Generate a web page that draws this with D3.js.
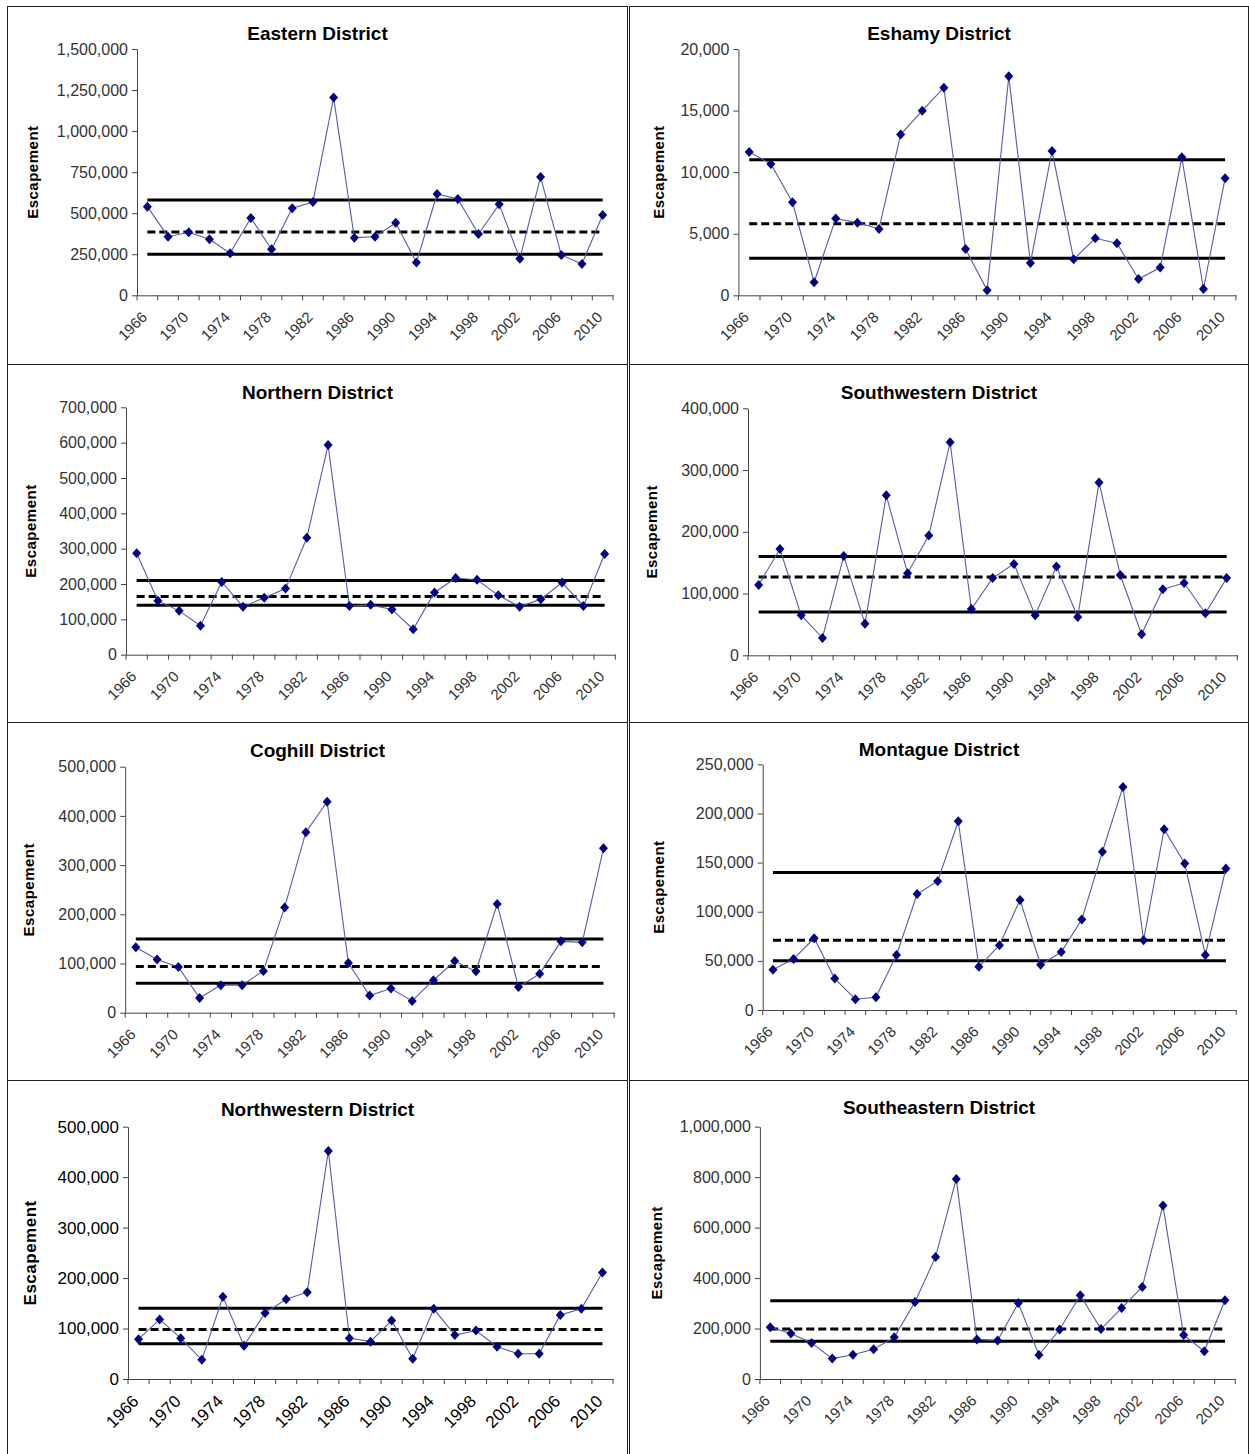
<!DOCTYPE html>
<html>
<head>
  <meta charset="UTF-8">
  <style>
    body { margin: 0; background: white; }
    text { font-family: Arial, "Liberation Sans", sans-serif; }
  </style>
</head>
<body>
<div id="charts"></div>

<script src="https://d3js.org/d3.v7.min.js"></script>
<script>

let width = 1249, height = 1454;

// categories (every second year), only every other one gets a label
const years = ["1966","1968","1970","1972","1974","1976","1978","1980","1982","1984","1986","1988",
  "1990","1992","1994","1996","1998","2000","2002","2004","2006","2008","2010"];
const yearLabels = ["1966","1970","1974","1978","1982","1986","1990","1994","1998","2002","2006","2010"];

const districts = ["Eastern District","Eshamy District","Northern District","Southwestern District",
  "Coghill District","Montague District","Northwestern District","Southeastern District"];

// escapement values
const eastern = [540000,357000,384000,341000,256000,471000,280000,530000,568000,1204000,351000,357000,
  442000,199000,617000,587000,373000,554000,223000,721000,246000,191000,489000];
const eshamy = [11640,10660,7550,1060,6230,5900,5390,13050,14990,16860,3760,410,
  17780,2630,11720,2920,4630,4220,1330,2250,11200,510,9500];
const northern = [287000,153000,124000,82000,206000,136000,161000,187000,331000,593000,138000,141000,
  128000,72000,176000,217000,212000,168000,136000,157000,204000,138000,285000];
const southwestern = [114000,172000,65000,28000,161000,51000,259000,133000,194000,345000,75000,125000,
  148000,65000,144000,62000,280000,130000,34000,107000,117000,68000,125000];
const coghill = [133000,108000,93000,30000,56000,56000,85000,214000,367000,429000,101000,35000,
  49000,24000,66000,105000,84000,221000,52000,79000,145000,143000,334000];
const montague = [41000,52000,73000,32000,11000,13000,56000,118000,131000,192000,44000,66000,
  112000,46000,59000,92000,161000,227000,71000,184000,149000,56000,144000];
const northwestern = [79000,118000,81000,38000,163000,66000,131000,158000,172000,452000,81000,74000,
  116000,40000,139000,87000,96000,64000,50000,50000,127000,139000,211000];
const southeastern = [205000,180000,143000,81000,96000,118000,165000,305000,484000,793000,157000,153000,
  301000,95000,196000,332000,198000,281000,365000,688000,174000,110000,312000];

const series = [eastern, eshamy, northern, southwestern, coghill, montague, northwestern, southeastern];

// upper goal, mean (dashed) and lower goal lines
const upperLine = [580000, 11000, 210000, 160000, 150000, 140000, 140000, 310000];
const meanLine  = [385000, 5800, 165000, 127000, 94000, 71000, 98000, 198000];
const lowerLine = [250000, 3000, 140000, 70000, 60000, 50000, 70000, 150000];

// y axis extent and tick step
const yMax  = [1500000, 20000, 700000, 400000, 500000, 250000, 500000, 1000000];
const yStep = [250000, 5000, 100000, 100000, 100000, 50000, 100000, 200000];

// layout of each panel: box [x, y, w, h], plot [x0, x1, yTop, yBottom]
const layout = [
  {box:[7.5, 6.5, 620, 358],    plot:[137, 613, 49, 295.3],      titleY: 33,   yTitle: 104},
  {box:[629.5, 6.5, 619, 358],  plot:[738.4, 1235.9, 49, 295.3], titleY: 33,   yTitle: 80},
  {box:[7.5, 364.5, 620, 358],  plot:[126, 615.3, 407.3, 654.7], titleY: 392,  yTitle: 95},
  {box:[629.5, 364.5, 619, 358],plot:[748, 1237.3, 408.3, 655.3],titleY: 392,  yTitle: 96},
  {box:[7.5, 722.5, 620, 358],  plot:[125.2, 614.1, 766.7, 1012.7], titleY: 750, yTitle: 96},
  {box:[629.5, 722.5, 619, 358],plot:[762.7, 1236.2, 764.3, 1010], titleY: 749, yTitle: 104},
  {box:[7.5, 1080.5, 620, 400], plot:[128, 613, 1126.7, 1379],   titleY: 1109, yTitle: 98, big: true},
  {box:[629.5, 1080.5, 619, 400],plot:[759.9, 1235.3, 1126.7, 1379], titleY: 1107, yTitle: 103}
];

let svg = d3.select("#charts")
  .append("svg")
  .attr("width", width)
  .attr("height", height);

svg.append("rect")
  .attr("width", width)
  .attr("height", height)
  .attr("fill", "white");

const diamond = "M0,-5L4.5,0L0,5L-4.5,0Z";

districts.forEach((name, i) => {
  const L = layout[i];
  const [x0, x1, yTop, yBot] = L.plot;
  const values = series[i];
  const g = svg.append("g");

  // panel frame
  g.append("rect")
    .attr("x", L.box[0]).attr("y", L.box[1])
    .attr("width", L.box[2]).attr("height", L.box[3])
    .attr("fill", "none")
    .attr("stroke", "#222")
    .attr("stroke-width", 1);

  let x = d3.scaleBand().domain(years).range([x0, x1]).padding(0);
  let y = d3.scaleLinear().domain([0, yMax[i]]).range([yBot, yTop]);
  const cx = d => x(d) + x.bandwidth() / 2;

  // title
  g.append("text")
    .attr("x", L.box[0] + L.box[2] / 2)
    .attr("y", L.titleY)
    .attr("dy", "0.35em")
    .attr("text-anchor", "middle")
    .style("font-size", "19px")
    .style("font-weight", "bold")
    .text(name);

  // y axis title
  g.append("text")
    .attr("transform", "translate(" + (x0 - L.yTitle) + "," + ((yTop + yBot) / 2) + ") rotate(-90)")
    .attr("dy", "0.35em")
    .attr("text-anchor", "middle")
    .style("font-size", L.big ? "17px" : "15px")
    .style("font-weight", "bold")
    .style("letter-spacing", "0.5px")
    .text("Escapement");

  const tickColor = L.big ? "#000" : "#333";

  // y axis
  let yAxis = g.append("g")
    .attr("transform", "translate(" + x0 + ",0)")
    .call(d3.axisLeft(y)
      .tickValues(d3.range(0, yMax[i] + 1, yStep[i]))
      .tickSize(5)
      .tickSizeOuter(0)
      .tickPadding(4)
      .tickFormat(d3.format(",")));
  yAxis.selectAll("text")
    .style("font-size", L.big ? "17px" : "16px")
    .style("font-family", "Arial, 'Liberation Sans', sans-serif")
    .attr("fill", tickColor);
  yAxis.selectAll("line, path").attr("stroke", "#444");

  // x axis: line + boundary ticks, labels on every other category
  let xAxis = g.append("g")
    .attr("transform", "translate(0," + yBot + ")")
    .call(d3.axisBottom(x).tickValues(yearLabels).tickSize(0).tickSizeOuter(0));
  xAxis.select(".domain").attr("stroke", "#444");
  xAxis.selectAll("text")
    .attr("x", 0).attr("y", 0).attr("dy", "0.35em")
    .attr("transform", "translate(-3,19) rotate(-45)")
    .style("text-anchor", "end")
    .style("font-size", L.big ? "17px" : "15px")
    .style("font-family", "Arial, 'Liberation Sans', sans-serif")
    .attr("fill", tickColor);

  g.append("g").selectAll("line")
    .data(years.concat(["end"]))
    .join("line")
    .attr("x1", d => d === "end" ? x1 : x(d))
    .attr("x2", d => d === "end" ? x1 : x(d))
    .attr("y1", yBot)
    .attr("y2", yBot + 5)
    .attr("stroke", "#444");

  // reference lines between first and last point
  const refs = [
    {v: upperLine[i], dash: null},
    {v: lowerLine[i], dash: null},
    {v: meanLine[i], dash: "8,4"}
  ];
  g.append("g").selectAll("line")
    .data(refs)
    .join("line")
    .attr("x1", cx(years[0]))
    .attr("x2", cx(years[years.length - 1]))
    .attr("y1", d => y(d.v))
    .attr("y2", d => y(d.v))
    .attr("stroke", "black")
    .attr("stroke-width", 3)
    .attr("stroke-dasharray", d => d.dash);

  // escapement series
  g.append("path")
    .datum(values)
    .attr("fill", "none")
    .attr("stroke", "#5a5aa8")
    .attr("stroke-width", 1.1)
    .attr("d", d3.line().x((d, j) => cx(years[j])).y(d => y(d)));

  g.append("g").selectAll("path")
    .data(values)
    .join("path")
    .attr("d", diamond)
    .attr("transform", (d, j) => "translate(" + cx(years[j]) + "," + y(d) + ")")
    .attr("fill", "#000080");
});

</script>
</body>
</html>
